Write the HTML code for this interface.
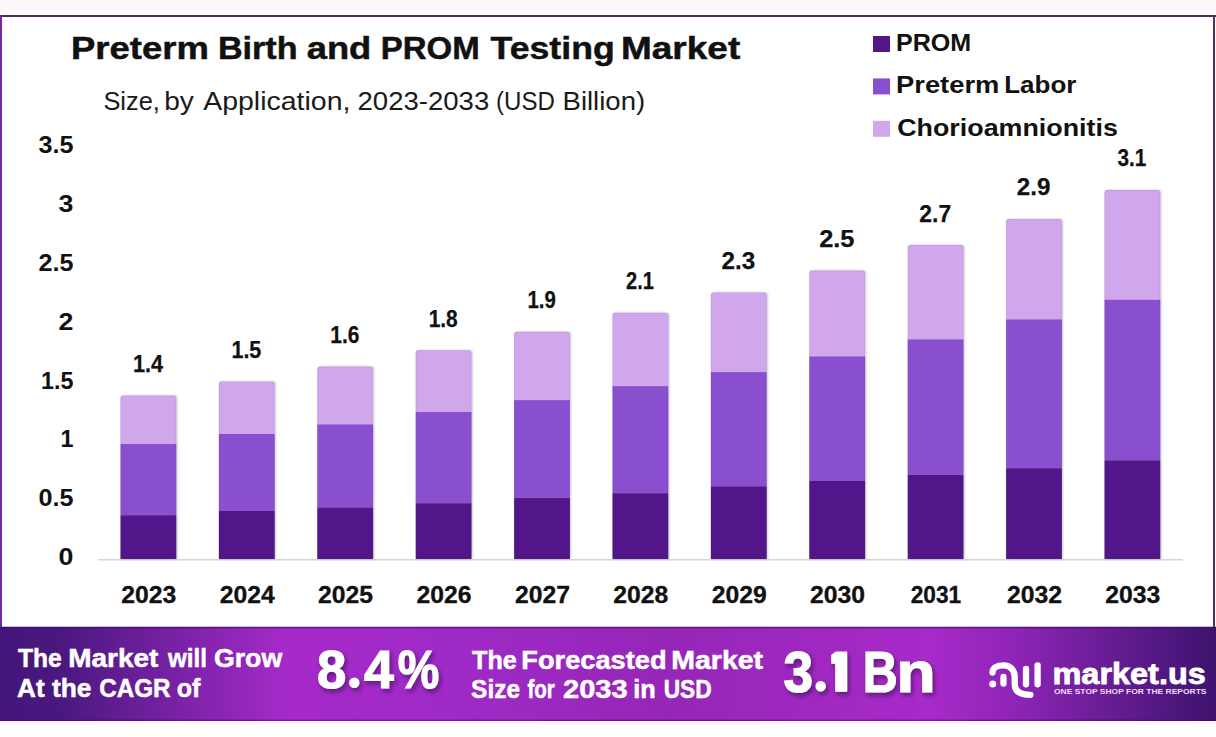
<!DOCTYPE html>
<html><head><meta charset="utf-8"><style>
html,body{margin:0;padding:0;background:#fff;width:1216px;height:737px;overflow:hidden}
svg{display:block;font-family:"Liberation Sans",sans-serif}
</style></head><body>
<svg width="1216" height="737" viewBox="0 0 1216 737">
<defs>
<linearGradient id="bn" x1="0" y1="0" x2="1" y2="0">
<stop offset="0" stop-color="#43167a"/>
<stop offset="0.05" stop-color="#4a187f"/>
<stop offset="0.235" stop-color="#a62ac9"/>
<stop offset="0.36" stop-color="#a02ac8"/>
<stop offset="0.55" stop-color="#9626b7"/>
<stop offset="0.765" stop-color="#a82ac9"/>
<stop offset="0.83" stop-color="#9025b8"/>
<stop offset="1" stop-color="#3d136e"/>
</linearGradient>
<filter id="bs" x="-10%" y="-5%" width="120%" height="110%"><feDropShadow dx="1" dy="0" stdDeviation="1.2" flood-color="#000" flood-opacity="0.22"/></filter>
<filter id="sh" x="-20%" y="-20%" width="140%" height="140%"><feDropShadow dx="2" dy="3" stdDeviation="2" flood-color="#2a0845" flood-opacity="0.6"/></filter>
</defs>
<rect x="0" y="0" width="1216" height="737" fill="#ffffff"/>
<rect x="0" y="0" width="1216" height="15" fill="#fdf8fd"/>
<rect x="0" y="15" width="1216" height="2" fill="#4f2a5c"/>
<rect x="0" y="15" width="2" height="612" fill="#6b2aa3"/>
<rect x="1213" y="15" width="2" height="612" fill="#52305f"/>
<text x="71.0" y="59" font-size="32" font-weight="bold" fill="#111" text-anchor="start" textLength="137.8" lengthAdjust="spacingAndGlyphs" stroke="#111" stroke-width="0.5">Preterm</text>
<text x="217.9" y="59" font-size="32" font-weight="bold" fill="#111" text-anchor="start" textLength="79.6" lengthAdjust="spacingAndGlyphs" stroke="#111" stroke-width="0.5">Birth</text>
<text x="306.7" y="59" font-size="32" font-weight="bold" fill="#111" text-anchor="start" textLength="64.6" lengthAdjust="spacingAndGlyphs" stroke="#111" stroke-width="0.5">and</text>
<text x="380.7" y="59" font-size="32" font-weight="bold" fill="#111" text-anchor="start" textLength="98.9" lengthAdjust="spacingAndGlyphs" stroke="#111" stroke-width="0.5">PROM</text>
<text x="490.6" y="59" font-size="32" font-weight="bold" fill="#111" text-anchor="start" textLength="124.1" lengthAdjust="spacingAndGlyphs" stroke="#111" stroke-width="0.5">Testing</text>
<text x="621.0" y="59" font-size="32" font-weight="bold" fill="#111" text-anchor="start" textLength="119.2" lengthAdjust="spacingAndGlyphs" stroke="#111" stroke-width="0.5">Market</text>
<text x="103.4" y="110" font-size="25.5" font-weight="normal" fill="#1a1a1a" text-anchor="start" textLength="56.5" lengthAdjust="spacingAndGlyphs" >Size,</text>
<text x="164.2" y="110" font-size="25.5" font-weight="normal" fill="#1a1a1a" text-anchor="start" textLength="29.7" lengthAdjust="spacingAndGlyphs" >by</text>
<text x="203.2" y="110" font-size="25.5" font-weight="normal" fill="#1a1a1a" text-anchor="start" textLength="147.2" lengthAdjust="spacingAndGlyphs" >Application,</text>
<text x="357.5" y="110" font-size="25.5" font-weight="normal" fill="#1a1a1a" text-anchor="start" textLength="131.7" lengthAdjust="spacingAndGlyphs" >2023-2033</text>
<text x="496.1" y="110" font-size="25.5" font-weight="normal" fill="#1a1a1a" text-anchor="start" textLength="58.8" lengthAdjust="spacingAndGlyphs" >(USD</text>
<text x="562.5" y="110" font-size="25.5" font-weight="normal" fill="#1a1a1a" text-anchor="start" textLength="82.7" lengthAdjust="spacingAndGlyphs" >Billion)</text>
<rect x="873" y="36.0" width="17" height="16" fill="#52188a"/>
<text x="895.9" y="51.0" font-size="23.7" font-weight="bold" fill="#111" text-anchor="start" textLength="75.3" lengthAdjust="spacingAndGlyphs" >PROM</text>
<rect x="873" y="78.4" width="17" height="16" fill="#8a4fcf"/>
<text x="896.0" y="93.35" font-size="23.7" font-weight="bold" fill="#111" text-anchor="start" textLength="103.4" lengthAdjust="spacingAndGlyphs" >Preterm</text>
<text x="1004.2" y="93.35" font-size="23.7" font-weight="bold" fill="#111" text-anchor="start" textLength="72.2" lengthAdjust="spacingAndGlyphs" >Labor</text>
<rect x="873" y="120.8" width="17" height="16" fill="#d0a6ec"/>
<text x="897.2" y="135.7" font-size="23.7" font-weight="bold" fill="#111" text-anchor="start" textLength="220.7" lengthAdjust="spacingAndGlyphs" >Chorioamnionitis</text>
<text x="73.5" y="565.3" font-size="23.3" font-weight="bold" fill="#111" text-anchor="end" textLength="14.9" lengthAdjust="spacingAndGlyphs" >0</text>
<text x="73.5" y="506.37" font-size="23.3" font-weight="bold" fill="#111" text-anchor="end" textLength="35" lengthAdjust="spacingAndGlyphs" >0.5</text>
<text x="73.5" y="447.44" font-size="23.3" font-weight="bold" fill="#111" text-anchor="end" >1</text>
<text x="73.5" y="388.51000000000005" font-size="23.3" font-weight="bold" fill="#111" text-anchor="end" >1.5</text>
<text x="73.5" y="329.58" font-size="23.3" font-weight="bold" fill="#111" text-anchor="end" textLength="14.9" lengthAdjust="spacingAndGlyphs" >2</text>
<text x="73.5" y="270.65000000000003" font-size="23.3" font-weight="bold" fill="#111" text-anchor="end" textLength="35" lengthAdjust="spacingAndGlyphs" >2.5</text>
<text x="73.5" y="211.72000000000003" font-size="23.3" font-weight="bold" fill="#111" text-anchor="end" textLength="14.9" lengthAdjust="spacingAndGlyphs" >3</text>
<text x="73.5" y="152.79000000000002" font-size="23.3" font-weight="bold" fill="#111" text-anchor="end" textLength="35" lengthAdjust="spacingAndGlyphs" >3.5</text>
<rect x="98" y="559" width="1085" height="1.5" fill="#d6d6d6"/>
<g filter="url(#bs)">
<path d="M120.5 444.0 L120.5 398.1 Q120.5 395.6 123.0 395.6 L173.8 395.6 Q176.3 395.6 176.3 398.1 L176.3 444.0 Z" fill="#d0a6ec"/>
<rect x="120.5" y="444.0" width="55.8" height="71.2" fill="#8a4fcf"/>
<rect x="120.5" y="515.2" width="55.8" height="43.8" fill="#52188a"/>
<path d="M120.8 559.0 L120.8 398.1 Q120.8 395.9 123.0 395.9 L173.8 395.9 Q176.0 395.9 176.0 398.1 L176.0 559.0" fill="none" stroke="#000" stroke-opacity="0.08" stroke-width="0.8"/>
</g>
<text x="148.0" y="372.0" font-size="23" font-weight="bold" fill="#111" text-anchor="middle" textLength="30.2" lengthAdjust="spacingAndGlyphs" stroke="#111" stroke-width="0.25">1.4</text>
<text x="148.8" y="603" font-size="23.5" font-weight="bold" fill="#111" text-anchor="middle" textLength="55" lengthAdjust="spacingAndGlyphs" stroke="#111" stroke-width="0.3">2023</text>
<g filter="url(#bs)">
<path d="M218.9 434.0 L218.9 383.9 Q218.9 381.4 221.4 381.4 L272.2 381.4 Q274.7 381.4 274.7 383.9 L274.7 434.0 Z" fill="#d0a6ec"/>
<rect x="218.9" y="434.0" width="55.8" height="77.0" fill="#8a4fcf"/>
<rect x="218.9" y="511.0" width="55.8" height="48.0" fill="#52188a"/>
<path d="M219.2 559.0 L219.2 383.9 Q219.2 381.7 221.4 381.7 L272.2 381.7 Q274.4 381.7 274.4 383.9 L274.4 559.0" fill="none" stroke="#000" stroke-opacity="0.08" stroke-width="0.8"/>
</g>
<text x="246.4" y="357.8" font-size="23" font-weight="bold" fill="#111" text-anchor="middle" textLength="29.9" lengthAdjust="spacingAndGlyphs" stroke="#111" stroke-width="0.25">1.5</text>
<text x="247.2" y="603" font-size="23.5" font-weight="bold" fill="#111" text-anchor="middle" textLength="55" lengthAdjust="spacingAndGlyphs" stroke="#111" stroke-width="0.3">2024</text>
<g filter="url(#bs)">
<path d="M317.3 424.4 L317.3 369.0 Q317.3 366.5 319.8 366.5 L370.6 366.5 Q373.1 366.5 373.1 369.0 L373.1 424.4 Z" fill="#d0a6ec"/>
<rect x="317.3" y="424.4" width="55.8" height="83.0" fill="#8a4fcf"/>
<rect x="317.3" y="507.4" width="55.8" height="51.6" fill="#52188a"/>
<path d="M317.6 559.0 L317.6 369.0 Q317.6 366.8 319.8 366.8 L370.6 366.8 Q372.8 366.8 372.8 369.0 L372.8 559.0" fill="none" stroke="#000" stroke-opacity="0.08" stroke-width="0.8"/>
</g>
<text x="344.8" y="342.9" font-size="23" font-weight="bold" fill="#111" text-anchor="middle" textLength="29.1" lengthAdjust="spacingAndGlyphs" stroke="#111" stroke-width="0.25">1.6</text>
<text x="345.6" y="603" font-size="23.5" font-weight="bold" fill="#111" text-anchor="middle" textLength="55" lengthAdjust="spacingAndGlyphs" stroke="#111" stroke-width="0.3">2025</text>
<g filter="url(#bs)">
<path d="M415.7 412.0 L415.7 352.7 Q415.7 350.2 418.2 350.2 L469.0 350.2 Q471.5 350.2 471.5 352.7 L471.5 412.0 Z" fill="#d0a6ec"/>
<rect x="415.7" y="412.0" width="55.8" height="91.2" fill="#8a4fcf"/>
<rect x="415.7" y="503.2" width="55.8" height="55.8" fill="#52188a"/>
<path d="M416.0 559.0 L416.0 352.7 Q416.0 350.5 418.2 350.5 L469.0 350.5 Q471.2 350.5 471.2 352.7 L471.2 559.0" fill="none" stroke="#000" stroke-opacity="0.08" stroke-width="0.8"/>
</g>
<text x="443.2" y="326.6" font-size="23" font-weight="bold" fill="#111" text-anchor="middle" textLength="29.1" lengthAdjust="spacingAndGlyphs" stroke="#111" stroke-width="0.25">1.8</text>
<text x="444.0" y="603" font-size="23.5" font-weight="bold" fill="#111" text-anchor="middle" textLength="55" lengthAdjust="spacingAndGlyphs" stroke="#111" stroke-width="0.3">2026</text>
<g filter="url(#bs)">
<path d="M514.1 400.1 L514.1 334.3 Q514.1 331.8 516.6 331.8 L567.4 331.8 Q569.9 331.8 569.9 334.3 L569.9 400.1 Z" fill="#d0a6ec"/>
<rect x="514.1" y="400.1" width="55.8" height="97.6" fill="#8a4fcf"/>
<rect x="514.1" y="497.7" width="55.8" height="61.3" fill="#52188a"/>
<path d="M514.4 559.0 L514.4 334.3 Q514.4 332.1 516.6 332.1 L567.4 332.1 Q569.6 332.1 569.6 334.3 L569.6 559.0" fill="none" stroke="#000" stroke-opacity="0.08" stroke-width="0.8"/>
</g>
<text x="541.6" y="308.2" font-size="23" font-weight="bold" fill="#111" text-anchor="middle" textLength="28.4" lengthAdjust="spacingAndGlyphs" stroke="#111" stroke-width="0.25">1.9</text>
<text x="542.4" y="603" font-size="23.5" font-weight="bold" fill="#111" text-anchor="middle" textLength="55" lengthAdjust="spacingAndGlyphs" stroke="#111" stroke-width="0.3">2027</text>
<g filter="url(#bs)">
<path d="M612.5 386.1 L612.5 315.3 Q612.5 312.8 615.0 312.8 L665.8 312.8 Q668.3 312.8 668.3 315.3 L668.3 386.1 Z" fill="#d0a6ec"/>
<rect x="612.5" y="386.1" width="55.8" height="107.1" fill="#8a4fcf"/>
<rect x="612.5" y="493.2" width="55.8" height="65.8" fill="#52188a"/>
<path d="M612.8 559.0 L612.8 315.3 Q612.8 313.1 615.0 313.1 L665.8 313.1 Q668.0 313.1 668.0 315.3 L668.0 559.0" fill="none" stroke="#000" stroke-opacity="0.08" stroke-width="0.8"/>
</g>
<text x="640.0" y="289.2" font-size="23" font-weight="bold" fill="#111" text-anchor="middle" textLength="27.9" lengthAdjust="spacingAndGlyphs" stroke="#111" stroke-width="0.25">2.1</text>
<text x="640.8" y="603" font-size="23.5" font-weight="bold" fill="#111" text-anchor="middle" textLength="55" lengthAdjust="spacingAndGlyphs" stroke="#111" stroke-width="0.3">2028</text>
<g filter="url(#bs)">
<path d="M710.9 372.1 L710.9 294.9 Q710.9 292.4 713.4 292.4 L764.2 292.4 Q766.7 292.4 766.7 294.9 L766.7 372.1 Z" fill="#d0a6ec"/>
<rect x="710.9" y="372.1" width="55.8" height="114.2" fill="#8a4fcf"/>
<rect x="710.9" y="486.3" width="55.8" height="72.7" fill="#52188a"/>
<path d="M711.2 559.0 L711.2 294.9 Q711.2 292.7 713.4 292.7 L764.2 292.7 Q766.4 292.7 766.4 294.9 L766.4 559.0" fill="none" stroke="#000" stroke-opacity="0.08" stroke-width="0.8"/>
</g>
<text x="738.4" y="268.8" font-size="23" font-weight="bold" fill="#111" text-anchor="middle" textLength="33.7" lengthAdjust="spacingAndGlyphs" stroke="#111" stroke-width="0.25">2.3</text>
<text x="739.2" y="603" font-size="23.5" font-weight="bold" fill="#111" text-anchor="middle" textLength="55" lengthAdjust="spacingAndGlyphs" stroke="#111" stroke-width="0.3">2029</text>
<g filter="url(#bs)">
<path d="M809.3 356.4 L809.3 273.0 Q809.3 270.5 811.8 270.5 L862.6 270.5 Q865.1 270.5 865.1 273.0 L865.1 356.4 Z" fill="#d0a6ec"/>
<rect x="809.3" y="356.4" width="55.8" height="124.6" fill="#8a4fcf"/>
<rect x="809.3" y="481.0" width="55.8" height="78.0" fill="#52188a"/>
<path d="M809.6 559.0 L809.6 273.0 Q809.6 270.8 811.8 270.8 L862.6 270.8 Q864.8 270.8 864.8 273.0 L864.8 559.0" fill="none" stroke="#000" stroke-opacity="0.08" stroke-width="0.8"/>
</g>
<text x="836.8" y="246.9" font-size="23" font-weight="bold" fill="#111" text-anchor="middle" textLength="35.3" lengthAdjust="spacingAndGlyphs" stroke="#111" stroke-width="0.25">2.5</text>
<text x="837.6" y="603" font-size="23.5" font-weight="bold" fill="#111" text-anchor="middle" textLength="55" lengthAdjust="spacingAndGlyphs" stroke="#111" stroke-width="0.3">2030</text>
<g filter="url(#bs)">
<path d="M907.7 339.4 L907.7 247.6 Q907.7 245.1 910.2 245.1 L961.0 245.1 Q963.5 245.1 963.5 247.6 L963.5 339.4 Z" fill="#d0a6ec"/>
<rect x="907.7" y="339.4" width="55.8" height="135.4" fill="#8a4fcf"/>
<rect x="907.7" y="474.8" width="55.8" height="84.2" fill="#52188a"/>
<path d="M908.0 559.0 L908.0 247.6 Q908.0 245.4 910.2 245.4 L961.0 245.4 Q963.2 245.4 963.2 247.6 L963.2 559.0" fill="none" stroke="#000" stroke-opacity="0.08" stroke-width="0.8"/>
</g>
<text x="935.2" y="221.5" font-size="23" font-weight="bold" fill="#111" text-anchor="middle" textLength="31.9" lengthAdjust="spacingAndGlyphs" stroke="#111" stroke-width="0.25">2.7</text>
<text x="936.0" y="603" font-size="23.5" font-weight="bold" fill="#111" text-anchor="middle" textLength="50.5" lengthAdjust="spacingAndGlyphs" stroke="#111" stroke-width="0.3">2031</text>
<g filter="url(#bs)">
<path d="M1006.1 319.4 L1006.1 221.5 Q1006.1 219.0 1008.6 219.0 L1059.4 219.0 Q1061.9 219.0 1061.9 221.5 L1061.9 319.4 Z" fill="#d0a6ec"/>
<rect x="1006.1" y="319.4" width="55.8" height="148.8" fill="#8a4fcf"/>
<rect x="1006.1" y="468.2" width="55.8" height="90.8" fill="#52188a"/>
<path d="M1006.4 559.0 L1006.4 221.5 Q1006.4 219.3 1008.6 219.3 L1059.4 219.3 Q1061.6 219.3 1061.6 221.5 L1061.6 559.0" fill="none" stroke="#000" stroke-opacity="0.08" stroke-width="0.8"/>
</g>
<text x="1033.6" y="195.4" font-size="23" font-weight="bold" fill="#111" text-anchor="middle" textLength="33.6" lengthAdjust="spacingAndGlyphs" stroke="#111" stroke-width="0.25">2.9</text>
<text x="1034.4" y="603" font-size="23.5" font-weight="bold" fill="#111" text-anchor="middle" textLength="55" lengthAdjust="spacingAndGlyphs" stroke="#111" stroke-width="0.3">2032</text>
<g filter="url(#bs)">
<path d="M1104.5 299.7 L1104.5 192.5 Q1104.5 190.0 1107.0 190.0 L1157.8 190.0 Q1160.3 190.0 1160.3 192.5 L1160.3 299.7 Z" fill="#d0a6ec"/>
<rect x="1104.5" y="299.7" width="55.8" height="160.6" fill="#8a4fcf"/>
<rect x="1104.5" y="460.3" width="55.8" height="98.7" fill="#52188a"/>
<path d="M1104.8 559.0 L1104.8 192.5 Q1104.8 190.3 1107.0 190.3 L1157.8 190.3 Q1160.0 190.3 1160.0 192.5 L1160.0 559.0" fill="none" stroke="#000" stroke-opacity="0.08" stroke-width="0.8"/>
</g>
<text x="1132.0" y="166.4" font-size="23" font-weight="bold" fill="#111" text-anchor="middle" textLength="28.8" lengthAdjust="spacingAndGlyphs" stroke="#111" stroke-width="0.25">3.1</text>
<text x="1132.8" y="603" font-size="23.5" font-weight="bold" fill="#111" text-anchor="middle" textLength="55" lengthAdjust="spacingAndGlyphs" stroke="#111" stroke-width="0.3">2033</text>
<rect x="0" y="627" width="1216" height="94" fill="url(#bn)"/>
<rect x="0" y="626.5" width="1216" height="2" fill="#3a0e60" opacity="0.55"/>
<rect x="0" y="719.5" width="1216" height="1.5" fill="#3a0e60" opacity="0.45"/>
<rect x="0" y="721" width="1216" height="3" fill="#fcf3fc"/>
<text x="18.0" y="667.3" font-size="25" font-weight="bold" fill="#fff" text-anchor="start" textLength="43.8" lengthAdjust="spacingAndGlyphs" stroke="#fff" stroke-width="0.5">The</text>
<text x="68.3" y="667.3" font-size="25" font-weight="bold" fill="#fff" text-anchor="start" textLength="90.0" lengthAdjust="spacingAndGlyphs" stroke="#fff" stroke-width="0.5">Market</text>
<text x="168.0" y="667.3" font-size="25" font-weight="bold" fill="#fff" text-anchor="start" textLength="39.0" lengthAdjust="spacingAndGlyphs" stroke="#fff" stroke-width="0.5">will</text>
<text x="213.9" y="667.3" font-size="25" font-weight="bold" fill="#fff" text-anchor="start" textLength="68.3" lengthAdjust="spacingAndGlyphs" stroke="#fff" stroke-width="0.5">Grow</text>
<text x="17.0" y="697" font-size="25" font-weight="bold" fill="#fff" text-anchor="start" textLength="27.6" lengthAdjust="spacingAndGlyphs" stroke="#fff" stroke-width="0.5">At</text>
<text x="52.0" y="697" font-size="25" font-weight="bold" fill="#fff" text-anchor="start" textLength="39.5" lengthAdjust="spacingAndGlyphs" stroke="#fff" stroke-width="0.5">the</text>
<text x="99.2" y="697" font-size="25" font-weight="bold" fill="#fff" text-anchor="start" textLength="71.4" lengthAdjust="spacingAndGlyphs" stroke="#fff" stroke-width="0.5">CAGR</text>
<text x="176.8" y="697" font-size="25" font-weight="bold" fill="#fff" text-anchor="start" textLength="23.6" lengthAdjust="spacingAndGlyphs" stroke="#fff" stroke-width="0.5">of</text>
<g filter="url(#sh)" stroke="#fff" stroke-width="1.2">
<text x="317" y="688.3" font-size="53" font-weight="bold" fill="#fff" text-anchor="start" textLength="29.25" lengthAdjust="spacingAndGlyphs" >8</text>
<circle cx="354.3" cy="682.8" r="5.2" fill="#fff" stroke="none"/>
<text x="364.1" y="688.3" font-size="53" font-weight="bold" fill="#fff" text-anchor="start" textLength="29.8" lengthAdjust="spacingAndGlyphs" >4</text>
<text x="397.8" y="688.3" font-size="53" font-weight="bold" fill="#fff" text-anchor="start" textLength="41.5" lengthAdjust="spacingAndGlyphs" >%</text>
</g>
<text x="472.0" y="668.8" font-size="25" font-weight="bold" fill="#fff" text-anchor="start" textLength="44.8" lengthAdjust="spacingAndGlyphs" stroke="#fff" stroke-width="0.5">The</text>
<text x="521.3" y="668.8" font-size="25" font-weight="bold" fill="#fff" text-anchor="start" textLength="145.3" lengthAdjust="spacingAndGlyphs" stroke="#fff" stroke-width="0.5">Forecasted</text>
<text x="671.2" y="668.8" font-size="25" font-weight="bold" fill="#fff" text-anchor="start" textLength="91.9" lengthAdjust="spacingAndGlyphs" stroke="#fff" stroke-width="0.5">Market</text>
<text x="471.1" y="698.4" font-size="25" font-weight="bold" fill="#fff" text-anchor="start" textLength="48.9" lengthAdjust="spacingAndGlyphs" stroke="#fff" stroke-width="0.5">Size</text>
<text x="527.4" y="698.4" font-size="25" font-weight="bold" fill="#fff" text-anchor="start" textLength="27.4" lengthAdjust="spacingAndGlyphs" stroke="#fff" stroke-width="0.5">for</text>
<text x="563.1" y="698.4" font-size="25" font-weight="bold" fill="#fff" text-anchor="start" textLength="64.5" lengthAdjust="spacingAndGlyphs" stroke="#fff" stroke-width="0.5">2033</text>
<text x="633.2" y="698.4" font-size="25" font-weight="bold" fill="#fff" text-anchor="start" textLength="22.5" lengthAdjust="spacingAndGlyphs" stroke="#fff" stroke-width="0.5">in</text>
<text x="663.7" y="698.4" font-size="25" font-weight="bold" fill="#fff" text-anchor="start" textLength="48.0" lengthAdjust="spacingAndGlyphs" stroke="#fff" stroke-width="0.5">USD</text>
<g filter="url(#sh)" stroke="#fff" stroke-width="1.2">
<text x="783.5" y="691.5" font-size="56.5" font-weight="bold" fill="#fff" text-anchor="start" textLength="29.6" lengthAdjust="spacingAndGlyphs" >3</text>
<circle cx="820.7" cy="686.3" r="5.2" fill="#fff" stroke="none"/>
<path d="M835.8 652.2 L846.6 652.2 L846.6 691.2 L835.8 691.2 L835.8 663.2 L831.8 663.2 L831.8 655.2 Z" fill="#fff" stroke-linejoin="round"/>
<text x="862.7" y="691.5" font-size="56.5" font-weight="bold" fill="#fff" text-anchor="start" textLength="34.9" lengthAdjust="spacingAndGlyphs" >B</text>
<text x="896.4" y="691.5" font-size="56.5" font-weight="bold" fill="#fff" text-anchor="start" textLength="39" lengthAdjust="spacingAndGlyphs" >n</text>
</g>
<g fill="none" stroke="#fff" stroke-width="6.3" stroke-linecap="round">
<path d="M992.5 672.5 C992.5 668 997 665.3 1003.5 665.3 C1010 665.3 1014.7 670 1014.7 677 L1014.7 684 C1014.7 691 1020 694.8 1030.4 694.8"/>
<path d="M1003.5 677 L1003.5 683.6"/>
<path d="M1026 669 L1026 684.3"/>
<path d="M1037.6 665.4 L1037.6 684.3"/>
</g>
<circle cx="992.7" cy="684" r="3.5" fill="#fff"/>
<text x="1052.5" y="683.7" font-size="30" font-weight="bold" fill="#fff" text-anchor="start" textLength="153.3" lengthAdjust="spacingAndGlyphs" stroke="#fff" stroke-width="0.8">market.us</text>
<text x="1054" y="693.8" font-size="7" font-weight="bold" fill="#f3dcf3" text-anchor="start" textLength="152.5" lengthAdjust="spacingAndGlyphs" >ONE STOP SHOP FOR THE REPORTS</text>
</svg>
</body></html>
